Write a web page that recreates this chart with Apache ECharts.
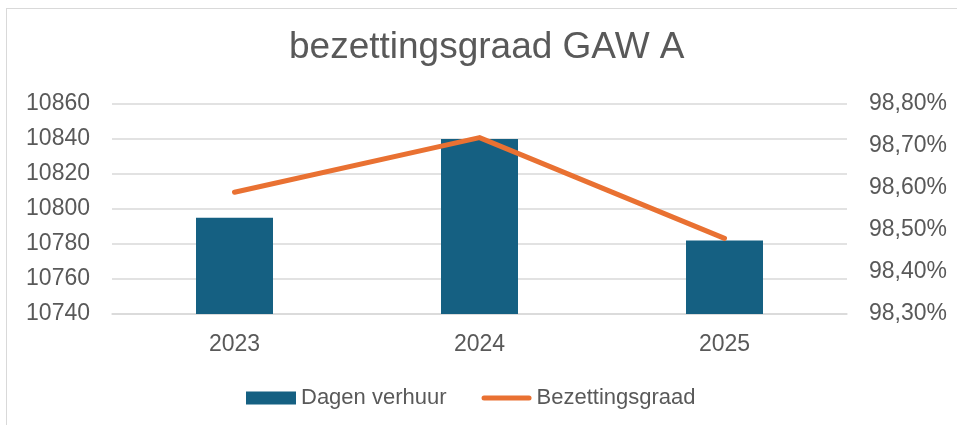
<!DOCTYPE html>
<html>
<head>
<meta charset="utf-8">
<script src="https://cdn.jsdelivr.net/npm/echarts@6/dist/echarts.min.js"></script>
<style>
  html, body { margin: 0; padding: 0; background: #fff; overflow: hidden; }
  #frame { position: absolute; left: 6px; top: 8px; width: 1200px; height: 800px; border: 1.5px solid #d9d9d9; box-sizing: border-box; }
  #chart { position: absolute; left: 0; top: 0; width: 957px; height: 425px; }
</style>
</head>
<body>
<div id="frame"></div>
<div id="chart"></div>
<script>
// data
const years = ['2023', '2024', '2025']
const dagenVerhuur = [10795, 10840, 10782]
const bezettingsgraad = [98.59, 98.72, 98.48] // in %

const fontFam = '"Liberation Sans", Arial, sans-serif'
const textColor = '#595959'
const gridColor = '#d9d9d9'

// thin rounded line for the legend, centred in a 50x13 box
const lineIcon = 'path://M0,0 M50,13 M2.5,4 L47.5,4 A2.5,2.5 0 0 1 47.5,9 L2.5,9 A2.5,2.5 0 0 1 2.5,4 Z'

const chart = echarts.init(document.getElementById('chart'))

chart.setOption({
  animation: false,
  textStyle: { fontFamily: fontFam },
  title: {
    text: 'bezettingsgraad GAW A',
    left: 289,
    top: 29,
    padding: 0,
    textStyle: { fontSize: 37, fontWeight: 'normal', color: textColor, fontFamily: fontFam }
  },
  legend: {
    left: 246,
    top: 387,
    padding: 0,
    itemWidth: 50,
    itemHeight: 13,
    itemGap: 35,
    textStyle: { fontSize: 22, color: textColor, fontFamily: fontFam },
    data: [
      { name: 'Dagen verhuur', icon: 'rect' },
      { name: 'Bezettingsgraad', icon: lineIcon }
    ]
  },
  grid: {
    left: 112,
    right: 110,
    top: 104,
    bottom: 111,
    containLabel: false
  },
  xAxis: {
    type: 'category',
    data: years,
    axisTick: { show: false },
    axisLine: { show: true, lineStyle: { color: gridColor, width: 1.5 } },
    axisLabel: { fontSize: 23, color: textColor, margin: 19 }
  },
  yAxis: [
    {
      type: 'value',
      min: 10740,
      max: 10860,
      interval: 20,
      axisLine: { show: false },
      axisTick: { show: false },
      splitLine: { lineStyle: { color: gridColor, width: 1.5 } },
      axisLabel: { fontSize: 23, color: textColor, margin: 22, formatter: v => String(v) }
    },
    {
      type: 'value',
      min: 98.3,
      max: 98.8,
      interval: 0.1,
      axisLine: { show: false },
      axisTick: { show: false },
      splitLine: { show: false },
      axisLabel: {
        fontSize: 23,
        color: textColor,
        margin: 22,
        formatter: v => v.toFixed(2).replace('.', ',') + '%'
      }
    }
  ],
  series: [
    {
      name: 'Dagen verhuur',
      type: 'bar',
      yAxisIndex: 0,
      barWidth: 77,
      itemStyle: { color: '#156082' },
      data: dagenVerhuur
    },
    {
      name: 'Bezettingsgraad',
      type: 'line',
      yAxisIndex: 1,
      symbol: 'none',
      lineStyle: { color: '#E97132', width: 5, cap: 'round', join: 'round' },
      itemStyle: { color: '#E97132' },
      data: bezettingsgraad
    }
  ]
})
</script>
</body>
</html>
